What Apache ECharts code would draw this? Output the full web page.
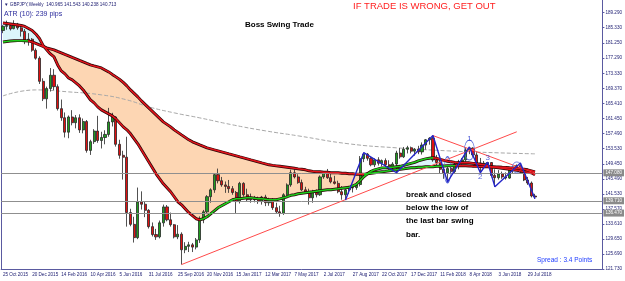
<!DOCTYPE html>
<html lang="en">
<head>
<meta charset="UTF-8">
<title>GBPJPY Weekly</title>
<script src="https://cdn.jsdelivr.net/npm/echarts@6/dist/echarts.min.js"></script>
<style>html,body{margin:0;padding:0;background:#fff}#chart{width:625px;height:281px}</style>
</head>
<body>
<div id="chart"></div>
<script>
// date labels, one every 8 weekly bars
var tickLabels = ['25 Oct 2015','20 Dec 2015','14 Feb 2016','10 Apr 2016','5 Jun 2016','31 Jul 2016','25 Sep 2016','20 Nov 2016','15 Jan 2017','12 Mar 2017','7 May 2017','2 Jul 2017','27 Aug 2017','22 Oct 2017','17 Dec 2017','11 Feb 2018','8 Apr 2018','3 Jun 2018','29 Jul 2018'];
var yTicks = [121.73,125.69,129.65,133.61,137.57,141.53,145.49,149.45,153.53,157.49,161.45,165.41,169.37,173.33,177.29,181.25,185.33,189.29];

var opens = [184.6,185.7,185.9,185.1,186.3,185.3,184.4,182.0,182.3,179.4,177.3,171.2,166.6,169.3,172.8,169.8,164.0,161.6,157.8,161.8,160.3,161.6,158.4,160.6,153.0,155.3,158.1,155.6,156.4,157.2,160.5,161.8,154.6,151.7,151.2,136.6,133.5,130.0,139.4,138.8,137.2,132.9,130.8,130.2,133.9,138.1,134.7,133.4,130.2,130.9,126.8,127.7,128.1,127.5,129.4,134.7,136.8,140.8,142.6,146.6,145.0,143.9,143.5,142.9,141.9,139.5,144.3,141.3,140.0,140.5,140.0,139.5,140.7,139.2,140.0,137.9,136.8,136.4,141.3,143.9,147.1,146.0,144.5,142.6,141.8,140.5,142.0,141.3,146.0,147.1,145.8,144.7,144.3,142.1,141.3,142.6,143.1,143.2,144.0,150.8,152.0,150.9,149.2,150.5,149.6,150.3,149.2,148.4,149.4,152.3,151.3,153.3,153.7,152.8,153.3,152.6,154.4,155.8,156.2,150.5,149.8,148.0,147.1,148.2,147.4,149.3,150.0,150.5,153.1,153.6,151.8,149.7,149.2,149.4,149.8,146.4,145.8,146.8,146.0,145.7,148.1,148.4,149.0,147.2,145.2,144.4,140.965];
var highs = [186.0,187.2,186.4,187.3,186.6,186.2,185.0,183.9,182.6,179.9,177.8,172.0,169.8,174.7,174.4,170.4,166.4,163.0,162.2,163.6,162.3,162.5,161.4,161.0,155.8,158.6,162.1,157.9,158.3,164.2,162.9,162.0,155.8,152.9,156.6,137.6,135.5,143.2,142.2,139.6,137.5,134.0,132.3,134.5,138.7,138.6,136.6,133.6,133.3,131.4,128.8,128.9,128.6,129.9,135.6,137.3,141.2,143.0,147.0,148.2,146.0,144.8,145.2,143.6,142.3,144.7,144.6,142.9,141.6,141.0,140.8,141.0,141.3,140.5,140.4,139.2,138.4,141.7,144.3,147.9,148.0,146.7,145.3,143.4,142.9,142.6,142.7,146.4,147.5,148.1,147.0,146.3,145.0,143.6,142.9,143.4,143.8,144.6,151.5,152.4,152.3,151.3,150.9,151.2,150.6,150.9,150.4,149.9,152.9,153.6,153.9,154.2,154.0,153.6,154.2,155.1,156.0,156.5,156.9,151.8,150.4,149.0,148.6,149.3,149.8,150.5,151.0,153.6,153.9,153.8,152.5,151.0,150.2,149.9,149.9,148.0,147.8,147.4,147.2,148.4,148.9,149.3,149.7,147.7,146.0,144.8,141.543];
var lows = [183.9,184.8,184.6,184.9,184.8,183.0,181.0,180.6,179.0,176.9,170.5,166.0,164.0,168.5,168.9,163.5,160.8,156.4,156.2,159.6,158.8,157.6,157.5,152.4,151.8,154.7,155.0,153.5,154.6,156.6,159.3,154.0,150.8,145.3,132.9,133.0,128.7,129.6,137.4,135.4,132.4,130.3,129.4,129.8,132.9,134.3,132.9,129.8,129.6,122.9,125.9,126.2,126.2,126.9,128.6,133.8,136.2,139.2,141.8,144.3,143.4,141.8,141.8,141.3,136.5,139.0,140.8,139.5,139.2,139.3,138.9,138.7,138.3,138.4,137.3,136.3,135.5,136.0,140.8,143.4,145.6,144.2,142.3,141.5,138.7,139.2,140.6,141.0,145.5,145.5,144.3,144.0,141.7,140.0,139.9,141.5,141.9,142.6,143.5,149.9,150.3,148.8,148.6,149.0,148.8,148.5,147.9,147.6,147.1,150.8,151.0,152.2,152.2,151.6,152.0,151.9,153.2,154.5,150.0,149.0,146.8,145.5,144.7,146.8,147.0,148.0,149.3,150.0,152.0,151.3,149.2,147.1,148.5,148.8,145.9,143.4,145.3,145.5,145.3,145.5,146.9,147.8,146.8,144.9,143.9,140.6,140.238];
var closes = [185.7,185.9,185.0,186.3,185.3,184.4,182.0,182.3,179.4,177.3,171.2,166.6,169.3,172.8,169.8,164.0,161.6,157.8,161.8,160.3,161.6,158.4,160.6,153.0,155.3,158.1,155.6,156.4,157.2,160.5,161.8,154.6,151.7,151.2,136.6,133.5,130.0,139.4,138.8,137.2,132.9,130.8,130.2,133.9,138.1,134.7,133.4,130.2,130.9,126.8,127.7,128.1,127.5,129.4,134.7,136.8,140.8,142.6,146.6,145.0,143.9,143.5,142.9,141.9,139.5,144.3,141.3,140.0,140.5,140.0,139.5,140.7,139.2,140.0,137.9,136.8,136.4,141.3,143.9,147.1,146.0,144.5,142.6,141.8,140.5,142.0,141.3,146.0,147.1,145.8,144.7,144.3,142.1,141.3,142.6,143.1,143.2,144.0,150.8,152.0,150.9,149.2,150.5,149.6,150.3,149.2,148.4,149.4,152.3,151.3,153.3,153.7,152.8,153.3,152.6,154.4,155.8,156.2,150.5,149.8,148.0,147.1,148.2,147.4,149.3,150.0,150.5,153.1,153.6,151.8,149.7,149.2,149.6,149.8,146.4,145.8,146.8,146.0,145.7,148.1,148.4,149.0,147.2,145.2,144.4,140.97,140.713];

// moving averages
var fastMA = [186.58,186.45,186.32,186.19,186.06,185.93,185.66,185.14,184.61,183.69,182.50,180.66,179.49,178.42,177.63,175.53,173.95,173.16,172.10,171.58,170.79,169.99,168.94,167.63,166.31,165.52,164.47,163.68,163.15,162.62,162.10,161.31,160.25,159.20,158.41,157.36,156.04,154.72,153.14,151.57,149.99,148.41,146.83,145.51,144.19,143.14,142.09,140.77,139.45,138.66,137.61,136.56,135.77,134.98,134.71,134.98,135.50,136.29,137.08,137.87,138.40,138.93,139.45,139.98,140.24,140.24,140.37,140.50,140.50,140.37,140.24,140.24,140.11,139.98,139.98,139.98,140.24,140.50,140.77,141.16,141.30,141.56,141.69,141.82,141.95,142.08,142.22,142.35,142.48,142.61,142.61,142.74,142.87,143.01,143.14,143.27,143.66,144.06,144.98,146.03,146.82,147.48,147.88,148.14,148.40,148.40,148.54,148.54,148.67,148.80,149.06,149.33,149.59,149.85,150.25,150.51,150.77,150.91,151.04,150.91,150.64,150.38,150.12,149.99,149.85,149.72,149.72,149.72,149.72,149.59,149.46,149.33,149.19,148.93,148.67,148.54,148.40,148.27,148.14,148.01,147.88,147.75,147.62,147.35,147.22,147.09,146.56];
var slowMA = [181.58,181.71,181.84,181.90,181.93,181.93,181.90,181.84,181.58,181.19,180.79,180.40,180.00,179.74,179.48,179.08,178.69,178.29,177.90,177.50,177.11,176.71,176.32,175.92,175.53,175.26,175.00,174.74,174.21,173.68,173.02,172.37,171.71,170.92,170.00,168.94,168.02,167.10,166.05,165.12,164.20,163.28,162.36,161.44,160.52,159.86,159.20,158.41,157.75,157.09,156.44,155.78,155.25,154.86,154.46,154.07,153.67,153.41,153.14,152.88,152.62,152.36,152.09,151.83,151.57,151.30,151.04,150.78,150.51,150.25,149.99,149.72,149.46,149.20,149.06,148.93,148.80,148.67,148.54,148.41,148.28,148.14,148.01,147.88,147.62,147.48,147.35,147.35,147.22,147.22,147.09,147.09,147.09,146.96,146.96,146.83,146.83,146.69,146.69,146.69,146.83,146.96,147.09,147.22,147.35,147.48,147.62,147.75,147.88,148.01,148.14,148.28,148.41,148.41,148.54,148.54,148.67,148.67,148.67,148.80,148.80,148.90,148.93,148.95,148.96,148.96,148.95,148.93,148.90,148.80,148.78,148.76,148.67,148.66,148.64,148.62,148.60,148.54,148.52,148.41,148.40,148.28,148.14,148.01,147.88,147.62,147.35];
var longIdx = [0,9,18,27,34,40,47,54,63,72,81,95,108,122,136,146];
var longVal = [167.36,168.94,168.42,167.63,166.31,164.47,162.89,161.57,159.73,158.15,156.83,154.72,153.67,152.88,152.35,152.09];

// zigzag swings
var pivotIdx = [94,99,108,118,122,128,131,133,135,142,146];
var pivotType = ['L','H','L','H','L','H','L','H','L','H','L'];
var swingNames = [['1',128,156.0],['2',131,146.0],['3',133,151.0]];
var trendUp = [[49,122.9],[141,157.9]];
var trendDown = [[118,156.9],[146,147.0]];
var levelLines = [147.08,139.71,136.47];
var lastPrice = 140.713;

var nCats = 165;
var weeks = [];
for (var i = 0; i < nCats; i++) weeks.push(i);

var candles = [], base = [], cyanBand = [], peachBand = [], longLine = [], zig = [];
for (var i = 0; i < opens.length; i++) {
    candles.push([opens[i], closes[i], lows[i], highs[i]]);
    base.push(Math.min(fastMA[i], slowMA[i]));
    cyanBand.push(fastMA[i] > slowMA[i] ? fastMA[i] - slowMA[i] : 0);
    peachBand.push(slowMA[i] > fastMA[i] ? slowMA[i] - fastMA[i] : 0);
    longLine.push(null);
    zig.push(null);
}
for (var k = 0; k < longIdx.length; k++) longLine[longIdx[k]] = longVal[k];
for (var k = 0; k < pivotIdx.length; k++) {
    var p = pivotIdx[k];
    zig[p] = pivotType[k] == 'H' ? highs[p] : lows[p];
}

var RED = '#e3141c', GREEN = '#1ccf1c', NAVY = '#1b1b70', AXIS = '#5a5aa0';

var chart = echarts.init(document.getElementById('chart'));
var option = {
    animation: false,
    backgroundColor: '#fff',
    grid: {left: 0, right: 20, top: 0, bottom: 12},
    xAxis: {
        type: 'category', data: weeks, boundaryGap: true,
        axisLine: {lineStyle: {color: AXIS}},
        axisTick: {length: 2, lineStyle: {color: AXIS},
            interval: function (idx) { return idx % 8 === 0 && idx / 8 < tickLabels.length; }},
        axisLabel: {
            interval: function (idx) { return idx % 8 === 0 && idx / 8 < tickLabels.length; },
            formatter: function (v, idx) { return tickLabels[idx / 8] || ''; },
            align: 'left', margin: 3, fontSize: 4.6, color: NAVY, fontFamily: 'Liberation Sans'
        },
        splitLine: {show: false}
    },
    yAxis: [{
        type: 'value', position: 'right', min: 121.73, max: 192.64,
        axisLine: {show: true, lineStyle: {color: AXIS}},
        axisTick: {show: true, length: 2, customValues: yTicks, lineStyle: {color: AXIS}},
        axisLabel: {customValues: yTicks, formatter: function (v) { return v.toFixed(3); },
            fontSize: 4.6, margin: 3, color: NAVY, fontFamily: 'Liberation Sans'},
        splitLine: {show: false}
    }, {
        type: 'value', position: 'left', min: 121.73, max: 192.64,
        axisLine: {show: true, lineStyle: {color: AXIS}},
        axisTick: {show: false}, axisLabel: {show: false}, splitLine: {show: false}
    }],
    visualMap: [{
        show: false, type: 'piecewise', seriesIndex: 6, dimension: 0,
        pieces: [{lt: 7, color: GREEN}, {gte: 7, lt: 99, color: RED}, {gte: 99, lt: 124, color: GREEN}, {gte: 124, color: RED}]
    }, {
        show: false, type: 'piecewise', seriesIndex: 8, dimension: 0,
        pieces: [{lt: 54, color: RED}, {gte: 54, lt: 118, color: GREEN}, {gte: 118, color: RED}]
    }],
    graphic: [
        {type: 'text', left: 4, top: 2, style: {text: '\u25BC GBPJPY,Weekly  140.965 141.543 140.238 140.713', fontSize: 4.6, fill: NAVY, fontFamily: 'Liberation Sans'}},
        {type: 'text', left: 4, top: 11, style: {text: 'ATR (10): 239 pips', fontSize: 7, fill: '#2a2a9c', fontFamily: 'Liberation Sans'}},
        {type: 'text', left: 245, top: 21, style: {text: 'Boss Swing Trade', fontSize: 8, fontWeight: 'bold', fill: '#000', fontFamily: 'Liberation Sans'}},
        {type: 'text', left: 353, top: 1, style: {text: 'IF TRADE IS WRONG, GET OUT', fontSize: 9.5, fill: '#ff1e1e', fontFamily: 'Liberation Sans'}},
        {type: 'text', left: 406, top: 188, style: {text: 'break and closed\nbelow the low of\nthe last bar swing\nbar.', fontSize: 8, lineHeight: 13.3, fontWeight: 'bold', fill: '#000', fontFamily: 'Liberation Sans'}},
        {type: 'text', left: 537, top: 257, style: {text: 'Spread : 3.4 Points', fontSize: 6.5, fill: '#1f3cff', fontFamily: 'Liberation Sans'}}
    ],
    series: [
        {type: 'line', data: base, stack: 'cloud', symbol: 'none', lineStyle: {opacity: 0}, silent: true, z: 1},
        {type: 'line', data: cyanBand, stack: 'cloud', symbol: 'none', lineStyle: {opacity: 0}, areaStyle: {color: '#dcf5fb', opacity: 1}, silent: true, z: 1},
        {type: 'line', data: peachBand, stack: 'cloud', symbol: 'none', lineStyle: {opacity: 0}, areaStyle: {color: '#fdd6b3', opacity: 1}, silent: true, z: 1},
        {type: 'line', data: longLine, connectNulls: true, smooth: true, symbol: 'none',
            lineStyle: {color: '#a8a8a8', width: 1, type: [4, 2]}, z: 2,
            markLine: {
                symbol: 'none', silent: true, animation: false,
                data: levelLines.map(function (v) { return {yAxis: v}; }).concat([
                    [{coord: trendUp[0]}, {coord: trendUp[1]}],
                    [{coord: trendDown[0]}, {coord: trendDown[1]}]
                ]).map(function (d, n) {
                    if (n < levelLines.length) {
                        d.lineStyle = {color: '#8f8f8f', width: 1, type: 'solid'};
                        d.label = {show: true, position: 'end', distance: 1, formatter: function (p) { return p.value.toFixed(3); },
                            backgroundColor: '#8a8a8a', color: '#fff', fontSize: 4.6, padding: [1, 2], fontFamily: 'Liberation Sans'};
                    } else {
                        d[0].lineStyle = {color: '#ff4a4a', width: 1, type: 'solid'};
                        d[0].label = {show: false};
                    }
                    return d;
                })
            }},
        {type: 'candlestick', data: candles, barWidth: 2.6, z: 3,
            itemStyle: {color: '#1f9e1f', color0: '#e01010', borderColor: '#262626', borderColor0: '#262626', borderWidth: 0.8},
            markLine: {symbol: 'none', silent: true, data: [{yAxis: lastPrice,
                lineStyle: {opacity: 0},
                label: {show: true, position: 'end', distance: 1, formatter: function (p) { return p.value.toFixed(3); },
                    backgroundColor: '#000070', color: '#fff', fontSize: 4.6, padding: [1, 2], fontFamily: 'Liberation Sans'}}]}},
        {type: 'line', data: slowMA, symbol: 'none', lineStyle: {color: '#2a0505', width: 2.9}, z: 4, silent: true},
        {type: 'line', data: slowMA, symbol: 'none', lineStyle: {width: 1.5}, z: 5, silent: true},
        {type: 'line', data: fastMA, symbol: 'none', lineStyle: {color: '#2a0505', width: 2.9}, z: 4, silent: true},
        {type: 'line', data: fastMA, symbol: 'none', lineStyle: {width: 1.5}, z: 5, silent: true},
        {type: 'line', data: zig, connectNulls: true, symbol: 'none', lineStyle: {color: '#2525c8', width: 1.4}, z: 6,
            markPoint: {
                symbol: 'circle', silent: true,
                itemStyle: {color: 'rgba(0,0,0,0)', borderColor: '#5566d8', borderWidth: 0.8},
                label: {show: false},
                data: [
                    {coord: [122, 147.9], symbolSize: [7, 26]},
                    {coord: [128, 153.1], symbolSize: [10, 20]},
                    {coord: [141, 148.5], symbolSize: [9, 11]}
                ]
            }},
        {type: 'scatter', symbolSize: 0, z: 7,
            data: swingNames.map(function (s) { return {value: [s[1], s[2]], name: s[0]}; }),
            label: {show: true, position: 'inside', formatter: function (p) { return p.name; },
                fontSize: 8, color: '#2a3ad0', fontFamily: 'Liberation Sans'}}
    ]
};
chart.setOption(option);
</script>
</body>
</html>
